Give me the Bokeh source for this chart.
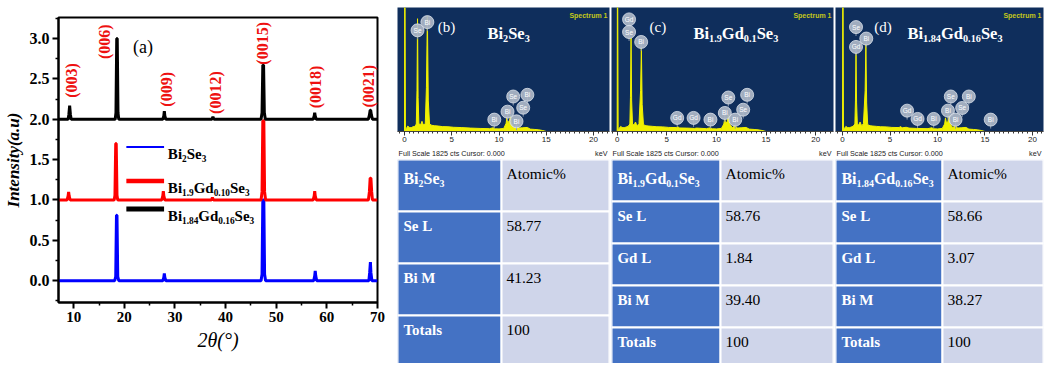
import re
from math import pi
from bokeh.plotting import figure
from bokeh.models import Range1d, FixedTicker, Label, PrintfTickFormatter
from bokeh.layouts import row, column
from bokeh.core.properties import value
from bokeh.embed import file_html
from bokeh.resources import INLINE

SERIF = "Liberation Serif"
SANS = "Liberation Sans"

# ---------------- XRD data ----------------
series_names = ["Bi2Se3", "Bi1.9Gd0.10Se3", "Bi1.84Gd0.16Se3"]
series_colors = ["#0000ff", "#ff0000", "#000000"]
offsets = [0, 1, 2]

x_blue = [7.0, 18.1, 18.3, 18.45, 18.55, 18.7, 18.9, 27.6, 27.8, 27.9, 28.0, 28.2,
          47.0, 47.2, 47.35, 47.55, 47.7, 47.9, 57.4, 57.6, 57.7, 57.8, 58.0,
          68.3, 68.45, 68.6, 68.7, 68.9, 70.0]
y_blue = [0.0, 0.0, 0.05, 0.81, 0.81, 0.05, 0.0, 0.0, 0.04, 0.09, 0.04, 0.0,
          0.0, 0.08, 1.0, 1.0, 0.08, 0.0, 0.0, 0.06, 0.12, 0.06, 0.0,
          0.0, 0.1, 0.23, 0.1, 0.0, 0.0]

x_red = [7.0, 8.7, 8.9, 9.0, 9.1, 9.3, 18.0, 18.15, 18.3, 18.4, 18.55, 18.7,
         27.4, 27.6, 27.7, 27.8, 28.0, 37.2, 37.4, 37.6,
         47.0, 47.2, 47.35, 47.55, 47.7, 47.9, 57.3, 57.5, 57.6, 57.7, 57.9,
         68.2, 68.4, 68.55, 68.7, 68.85, 69.0, 70.0]
y_red = [0.0, 0.0, 0.05, 0.1, 0.05, 0.0, 0.0, 0.06, 0.7, 0.7, 0.06, 0.0,
         0.0, 0.05, 0.11, 0.05, 0.0, 0.0, 0.03, 0.0,
         0.0, 0.1, 0.98, 0.98, 0.1, 0.0, 0.0, 0.05, 0.11, 0.05, 0.0,
         0.0, 0.1, 0.27, 0.27, 0.1, 0.0, 0.0]

x_blk = [7.0, 8.9, 9.05, 9.2, 9.35, 9.5, 18.2, 18.35, 18.5, 18.6, 18.75, 18.9,
         27.6, 27.8, 27.9, 28.0, 28.2, 37.3, 37.5, 37.7,
         47.0, 47.2, 47.35, 47.5, 47.65, 47.85, 57.3, 57.5, 57.6, 57.7, 57.9,
         68.2, 68.4, 68.55, 68.65, 68.8, 69.0, 70.0]
y_blk = [0.0, 0.0, 0.06, 0.17, 0.06, 0.0, 0.0, 0.08, 1.0, 1.0, 0.08, 0.0,
         0.0, 0.04, 0.1, 0.04, 0.0, 0.0, 0.03, 0.0,
         0.0, 0.08, 0.67, 0.67, 0.08, 0.0, 0.0, 0.04, 0.08, 0.04, 0.0,
         0.0, 0.05, 0.11, 0.11, 0.05, 0.0, 0.0]

hkl_labels = ["(003)", "(006)", "(009)", "(0012)", "(0015)", "(0018)", "(0021)"]
hkl_x = [9.56, 16.1, 28.4, 38.1, 47.3, 57.8, 68.3]
hkl_y = [2.48, 2.96, 2.37, 2.33, 2.94, 2.40, 2.41]

x_ticks = [10, 20, 30, 40, 50, 60, 70]
x_minor = [15, 25, 35, 45, 55, 65]
y_ticks = [0.0, 0.5, 1.0, 1.5, 2.0, 2.5, 3.0]
y_minor = [-0.25, 0.25, 0.75, 1.25, 1.75, 2.25, 2.75, 3.25]

# ---------------- EDS data ----------------
eds_compositions = ["Bi2Se3", "Bi1.9Gd0.1Se3", "Bi1.84Gd0.16Se3"]
eds_tags = ["(b)", "(c)", "(d)"]

kev_b = [0.0, 0.02, 0.06, 0.1, 0.2, 0.35, 0.5, 0.7, 0.9, 1.1,
         1.25, 1.32, 1.38, 1.44, 1.52, 1.7, 1.85, 1.95, 2.05, 2.2,
         2.32, 2.42, 2.52, 2.65, 2.9, 3.2, 3.6, 4.0, 4.6, 5.2,
         6.0, 7.0, 8.0, 9.0, 9.4, 9.6, 10.0, 10.5, 10.75, 10.84,
         10.95, 11.1, 11.22, 11.35, 11.6, 11.88, 12.1, 12.5, 13.0, 13.3,
         13.8, 14.2, 14.6, 15.0]
cts_b = [0, 1825, 1825, 30, 45, 80, 60, 55, 70, 75,
         110, 600, 1660, 500, 120, 95, 150, 110, 95, 120,
         650, 1700, 450, 110, 90, 85, 80, 72, 70, 62,
         58, 50, 45, 42, 55, 40, 38, 45, 120, 210,
         130, 160, 230, 110, 60, 95, 50, 55, 60, 35,
         30, 25, 15, 0]

kev_c = [0.0, 0.02, 0.06, 0.1, 0.2, 0.35, 0.5, 0.7, 0.9, 1.1,
         1.28, 1.34, 1.4, 1.46, 1.55, 1.7, 1.85, 1.95, 2.05, 2.2,
         2.36, 2.44, 2.52, 2.65, 2.9, 3.2, 3.6, 4.0, 4.6, 5.2,
         6.0, 6.1, 6.3, 7.0, 7.8, 8.0, 9.0, 9.4, 9.6, 10.0,
         10.5, 10.75, 10.84, 10.95, 11.1, 11.22, 11.35, 11.6, 11.88, 12.1,
         12.5, 13.0, 13.3, 13.8, 14.2, 14.6, 15.0]
cts_c = [0, 1825, 1825, 30, 45, 75, 60, 55, 65, 75,
         110, 500, 1380, 450, 110, 95, 140, 100, 90, 115,
         600, 1240, 400, 100, 85, 80, 75, 70, 68, 60,
         58, 70, 52, 50, 45, 50, 42, 55, 40, 38,
         45, 110, 190, 120, 150, 250, 110, 55, 90, 50,
         55, 60, 35, 30, 25, 15, 0]

kev_d = [0.0, 0.02, 0.06, 0.1, 0.2, 0.35, 0.5, 0.7, 0.9, 1.1,
         1.3, 1.36, 1.42, 1.48, 1.56, 1.7, 1.85, 1.95, 2.05, 2.2,
         2.38, 2.46, 2.54, 2.65, 2.9, 3.2, 3.6, 4.0, 4.6, 5.2,
         6.0, 6.05, 6.3, 6.7, 7.0, 7.8, 9.0, 9.4, 9.6, 10.0,
         10.5, 10.75, 10.84, 10.95, 11.1, 11.22, 11.35, 11.6, 11.88, 12.1,
         12.5, 13.0, 13.3, 13.8, 14.2, 14.6, 15.0]
cts_d = [0, 1825, 1825, 30, 45, 75, 60, 55, 65, 75,
         110, 450, 1150, 420, 105, 95, 140, 100, 90, 115,
         600, 1290, 420, 100, 85, 80, 75, 70, 68, 60,
         58, 72, 55, 62, 50, 45, 42, 55, 40, 38,
         45, 110, 200, 120, 150, 240, 110, 55, 90, 50,
         55, 60, 35, 30, 25, 15, 0]

mk_b_x = [1.38, 2.42, 9.5, 10.9, 11.5, 11.85, 12.56, 13.0]
mk_b_y = [1489, 1610, 175, 292, 515, 150, 350, 540]
mk_b_t = ["Se", "Bi", "Bi", "Bi", "Se", "Bi", "Se", "Bi"]

mk_c_x = [1.2, 1.2, 2.42, 6.05, 7.7, 9.4, 10.85, 11.2, 11.9, 12.7, 13.1]
mk_c_y = [1650, 1464, 1318, 200, 200, 175, 273, 500, 175, 321, 540]
mk_c_t = ["Gd", "Se", "Bi", "Gd", "Gd", "Bi", "Bi", "Se", "Bi", "Se", "Bi"]

mk_d_x = [1.42, 1.42, 2.5, 6.8, 7.9, 9.6, 11.1, 11.4, 11.9, 12.6, 13.3, 15.6]
mk_d_y = [1537, 1245, 1368, 307, 185, 185, 307, 515, 175, 346, 515, 175]
mk_d_t = ["Se", "Gd", "Bi", "Gd", "Gd", "Bi", "Bi", "Se", "Bi", "Se", "Bi", "Bi"]

eds_full_scale = 1825
eds_ticks = [0, 5, 10, 15, 20]
eds_info = "Full Scale 1825 cts Cursor: 0.000"

# ---------------- table data ----------------
tab_header_right = "Atomic%"
tab_rows_b = ["Se L", "Bi M", "Totals"]
tab_vals_b = ["58.77", "41.23", "100"]
tab_rows_c = ["Se L", "Gd L", "Bi M", "Totals"]
tab_vals_c = ["58.76", "1.84", "39.40", "100"]
tab_rows_d = ["Se L", "Gd L", "Bi M", "Totals"]
tab_vals_d = ["58.66", "3.07", "38.27", "100"]

# ---------------- helpers ----------------
TB = {'B': 667, 'i': 278, 'S': 556, 'e': 444, 'G': 778, 'd': 556, '.': 250, ' ': 250,
      '(': 333, ')': 333, 'T': 667, 'o': 500, 't': 333, 'a': 500, 'l': 278, 's': 389,
      'L': 667, 'M': 944}


def split_formula(s):
    return [(m.group(0), m.group(0)[0].isdigit()) for m in re.finditer(r"[A-Za-z]+|[0-9.]+", s)]


def text_w(s, size):
    return sum(TB.get(ch, 500) for ch in s) * size / 1000.0


def rich(fig, x, y, parts, size, color, style="bold", align="left", sub=0.62):
    total = sum(text_w(t, size * sub if s else size) for t, s in parts)
    off = 0.0 if align == "left" else -total / 2.0
    for t, s in parts:
        fs = size * sub if s else size
        yo = -0.33 * size - (0.3 * size if s else 0.0)
        fig.add_layout(Label(x=x, y=y, x_offset=off, y_offset=yo, text=t,
                             text_font=SERIF, text_font_size=f"{fs:.1f}px",
                             text_font_style=style, text_color=color,
                             text_align="left", text_baseline="alphabetic"))
        off += text_w(t, fs)


# ---------------- XRD figure ----------------
p = figure(width=396, height=363, x_range=Range1d(7, 70), y_range=Range1d(-0.27, 3.26),
           output_backend="svg", toolbar_location=None,
           min_border_left=57, min_border_right=19, min_border_top=17, min_border_bottom=61)
p.xgrid.visible = False
p.ygrid.visible = False
p.outline_line_color = "black"
p.outline_line_width = 2
p.background_fill_color = "white"
p.border_fill_color = "white"

for ax in (p.xaxis[0], p.yaxis[0]):
    ax.axis_line_width = 2
    ax.major_tick_line_width = 2
    ax.minor_tick_line_width = 1.5
    ax.major_tick_in = 0
    ax.major_tick_out = 6
    ax.minor_tick_in = 0
    ax.minor_tick_out = 3
    ax.major_label_text_font = SERIF
    ax.major_label_text_font_style = "bold"
    ax.major_label_text_color = "black"
    ax.axis_label_text_font = SERIF
    ax.axis_label_text_color = "black"
    ax.major_label_standoff = 3
    ax.axis_label_standoff = 4

p.xaxis.ticker = FixedTicker(ticks=x_ticks, minor_ticks=x_minor)
p.yaxis.ticker = FixedTicker(ticks=y_ticks, minor_ticks=y_minor)
p.yaxis.formatter = PrintfTickFormatter(format="%.1f")
p.xaxis.formatter = PrintfTickFormatter(format="%d")
p.xaxis.major_label_text_font_size = "15px"
p.yaxis.major_label_text_font_size = "16px"
p.yaxis.axis_label = "Intensity(a.u)"
p.yaxis.axis_label_text_font_style = "bold italic"
p.yaxis.axis_label_text_font_size = "17px"
p.xaxis.axis_label = "2θ(°)"
p.xaxis.axis_label_text_font_style = "italic"
p.xaxis.axis_label_text_font_size = "20px"

for xs, ys, off, c in zip([x_blue, x_red, x_blk], [y_blue, y_red, y_blk], offsets, series_colors):
    p.line(xs, [v + off for v in ys], line_color=c, line_width=3)

p.text(x=hkl_x, y=hkl_y, text=hkl_labels, angle=pi / 2, text_align="center",
       text_baseline="middle", text_font=value(SERIF), text_font_style="bold",
       text_font_size="16px", text_color="#ee1111")

p.add_layout(Label(x=23.7, y=2.89, text="(a)", text_font=SERIF, text_font_size="18px",
                   text_align="center", text_baseline="middle", text_color="black"))

# legend: line samples + rich text labels
leg_widths = [2, 4.5, 5]
leg_text_x = 28.6
leg_text_y = [1.625, 1.204, 0.857]
p.segment(x0=[leg_text_x - 8.2] * 3, x1=[leg_text_x - 0.75] * 3,
          y0=[v + 0.03 for v in leg_text_y], y1=[v + 0.03 for v in leg_text_y],
          line_color=series_colors, line_width=leg_widths)
for name, ly in zip(series_names, leg_text_y):
    rich(p, leg_text_x, ly, split_formula(name), 15, "black")

# ---------------- EDS panels ----------------
NAVY = "#0f2e5c"
YEL = "#f0f000"


def eds_panel(width, xr, kev, cts, mk_x, mk_y, mk_t, tag, comp, tag_x, comp_x):
    f = figure(width=width, height=146, x_range=Range1d(*xr), y_range=Range1d(0, eds_full_scale),
               output_backend="svg", toolbar_location=None, y_axis_location=None,
               min_border_left=1, min_border_right=1, min_border_top=7, min_border_bottom=15)
    f.background_fill_color = NAVY
    f.border_fill_color = "white"
    f.outline_line_color = None
    f.xgrid.visible = False
    f.ygrid.visible = False
    ax = f.xaxis[0]
    ax.ticker = FixedTicker(ticks=eds_ticks, minor_ticks=[i * 0.5 for i in range(-2, 45)])
    ax.major_tick_in = 0
    ax.major_tick_out = 4
    ax.minor_tick_in = 0
    ax.minor_tick_out = 2
    ax.axis_line_color = "#444444"
    ax.major_tick_line_color = "#333333"
    ax.minor_tick_line_color = "#333333"
    ax.major_label_text_font = SANS
    ax.major_label_text_font_size = "8px"
    ax.major_label_text_color = "#222222"
    ax.major_label_standoff = 1

    f.varea(x=kev, y1=0, y2=cts, fill_color=YEL)
    f.line(kev, cts, line_color=YEL, line_width=1)
    stem = 9 * eds_full_scale / 125.0
    f.segment(x0=mk_x, y0=mk_y, x1=mk_x, y1=[v - stem for v in mk_y],
              line_color="#8d99ab", line_width=1)
    f.scatter(mk_x, mk_y, size=13, marker="circle", fill_color="#aeb8c8", fill_alpha=0.92,
              line_color="#dde3ec", line_width=0.8)
    f.text(mk_x, mk_y, text=mk_t, text_align="center", text_baseline="middle",
           text_font=value(SANS), text_font_size="6.5px", text_color="white")

    f.add_layout(Label(x=tag_x, y=1533, text=tag, text_font=SERIF, text_font_size="15px",
                       text_align="center", text_baseline="middle", text_color="white"))
    rich(f, comp_x, 1520, split_formula(comp), 16.5, "white")
    f.add_layout(Label(x=xr[1], y=1700, x_offset=-2, text="Spectrum 1", text_font=SANS,
                       text_font_size="7px", text_font_style="bold", text_align="right",
                       text_baseline="middle", text_color="#c4c81a"))
    return f


def info_fig(width):
    f = figure(width=width, height=13, x_range=Range1d(0, 1), y_range=Range1d(0, 1),
               output_backend="svg", toolbar_location=None,
               x_axis_location=None, y_axis_location=None, min_border=0)
    f.outline_line_color = None
    f.xgrid.visible = False
    f.ygrid.visible = False
    f.add_layout(Label(x=0, y=0.5, x_offset=1, text=eds_info, text_font=SANS,
                       text_font_size="7.2px", text_align="left", text_baseline="middle",
                       text_color="#222222"))
    f.add_layout(Label(x=1, y=0.5, x_offset=-2, text="keV", text_font=SANS,
                       text_font_size="7.2px", text_align="right", text_baseline="middle",
                       text_color="#222222"))
    return f


eds_b = eds_panel(214, (-0.74, 21.69), kev_b, cts_b, mk_b_x, mk_b_y, mk_b_t,
                  eds_tags[0], eds_compositions[0], 4.44, 8.78)
eds_c = eds_panel(224, (-0.57, 21.8), kev_c, cts_c, mk_c_x, mk_c_y, mk_c_t,
                  eds_tags[1], eds_compositions[1], 4.11, 7.69)
eds_d = eds_panel(210, (-0.74, 21.16), kev_d, cts_d, mk_d_x, mk_d_y, mk_d_t,
                  eds_tags[2], eds_compositions[2], 4.26, 6.84)

# ---------------- tables ----------------
TBLUE = "#4472c4"
TLIGHT = "#cfd5ea"


def table_fig(width, split, rh, header, rows, vals):
    H = 204
    n = len(rows) + 1
    f = figure(width=width, height=H, x_range=Range1d(0, width), y_range=Range1d(H, 0),
               output_backend="svg", toolbar_location=None,
               x_axis_location=None, y_axis_location=None, min_border=0)
    f.outline_line_color = None
    f.xgrid.visible = False
    f.ygrid.visible = False
    f.background_fill_color = "white"
    f.border_fill_color = "white"
    tops = [i * rh for i in range(n)]
    bots = [(i + 1) * rh for i in range(n)]
    f.quad(left=0, right=split, top=tops, bottom=bots, fill_color=TBLUE,
           line_color="white", line_width=2)
    f.quad(left=split, right=width, top=tops, bottom=bots, fill_color=TLIGHT,
           line_color="white", line_width=2)
    rich(f, 6, tops[0] + 14, split_formula(header), 16, "white")
    f.add_layout(Label(x=split + 5, y=tops[0] + 14, text=tab_header_right, text_font=SERIF,
                       text_font_size="15.5px", text_align="left", text_baseline="middle",
                       text_color="black"))
    for i, (r, v) in enumerate(zip(rows, vals)):
        t = tops[i + 1] + 14
        f.add_layout(Label(x=6, y=t, text=r, text_font=SERIF, text_font_size="15px",
                           text_font_style="bold", text_align="left", text_baseline="middle",
                           text_color="white"))
        f.add_layout(Label(x=split + 5, y=t, text=v, text_font=SERIF, text_font_size="15.5px",
                           text_align="left", text_baseline="middle", text_color="black"))
    return f


tab_b = table_fig(214, 105, 52, eds_compositions[0], tab_rows_b, tab_vals_b)
tab_c = table_fig(224, 110, 42, eds_compositions[1], tab_rows_c, tab_vals_c)
tab_d = table_fig(210, 108, 42, eds_compositions[2], tab_rows_d, tab_vals_d)

layout = row(p,
             column(eds_b, info_fig(214), tab_b),
             column(eds_c, info_fig(224), tab_c),
             column(eds_d, info_fig(210), tab_d))

open("out.html", "w").write(file_html(layout, INLINE))
